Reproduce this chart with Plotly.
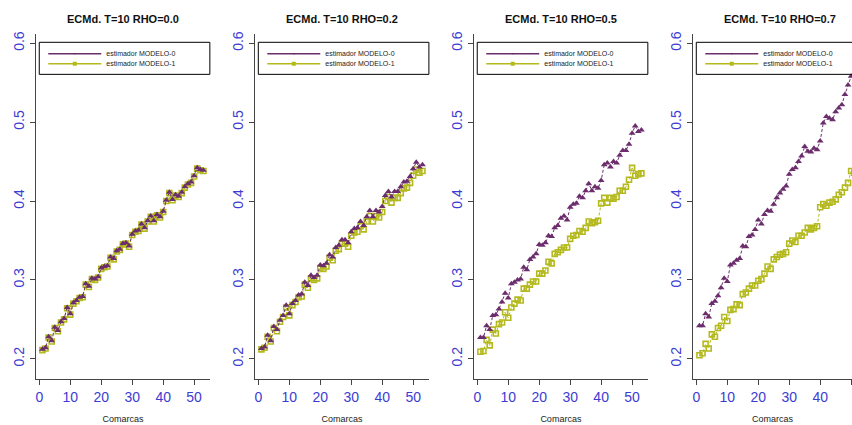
import plotly.graph_objects as go

# ---------------- data ----------------
comarcas = list(range(1, 54))
titles = ["ECMd. T=10 RHO=0.0", "ECMd. T=10 RHO=0.2",
          "ECMd. T=10 RHO=0.5", "ECMd. T=10 RHO=0.7"]
series_names = ["estimador MODELO-0", "estimador MODELO-1"]
x_ticks = [0, 10, 20, 30, 40, 50]
y_ticks = [0.2, 0.3, 0.4, 0.5, 0.6]
y_ticktext = ["0.2", "0.3", "0.4", "0.5", "0.6"]

m0_rho00 = [0.212, 0.214, 0.228, 0.223, 0.240, 0.236, 0.247, 0.251, 0.265, 0.257,
            0.271, 0.274, 0.278, 0.279, 0.295, 0.292, 0.302, 0.301, 0.304, 0.315,
            0.317, 0.318, 0.329, 0.327, 0.337, 0.339, 0.346, 0.347, 0.343, 0.358,
            0.362, 0.363, 0.371, 0.366, 0.375, 0.381, 0.375, 0.383, 0.380, 0.387,
            0.401, 0.411, 0.402, 0.408, 0.406, 0.411, 0.418, 0.422, 0.424, 0.432,
            0.442, 0.440, 0.439]
m1_rho00 = [0.211, 0.213, 0.227, 0.222, 0.239, 0.235, 0.246, 0.250, 0.264, 0.256,
            0.270, 0.273, 0.277, 0.278, 0.294, 0.291, 0.301, 0.300, 0.303, 0.314,
            0.316, 0.317, 0.328, 0.326, 0.336, 0.338, 0.345, 0.346, 0.342, 0.357,
            0.361, 0.362, 0.370, 0.365, 0.374, 0.380, 0.374, 0.382, 0.379, 0.386,
            0.400, 0.410, 0.401, 0.407, 0.405, 0.410, 0.417, 0.421, 0.423, 0.431,
            0.441, 0.439, 0.438]

m0_rho02 = [0.213, 0.215, 0.230, 0.223, 0.241, 0.237, 0.249, 0.255, 0.268, 0.257,
            0.270, 0.274, 0.281, 0.282, 0.297, 0.293, 0.306, 0.303, 0.306, 0.319,
            0.318, 0.321, 0.332, 0.329, 0.341, 0.344, 0.351, 0.351, 0.347, 0.361,
            0.365, 0.366, 0.374, 0.369, 0.380, 0.388, 0.380, 0.388, 0.386, 0.393,
            0.407, 0.412, 0.405, 0.412, 0.412, 0.418, 0.424, 0.425, 0.431, 0.441,
            0.449, 0.443, 0.446]
m1_rho02 = [0.212, 0.214, 0.228, 0.222, 0.239, 0.235, 0.247, 0.253, 0.265, 0.255,
            0.268, 0.272, 0.278, 0.279, 0.294, 0.290, 0.302, 0.300, 0.302, 0.315,
            0.314, 0.317, 0.328, 0.325, 0.337, 0.339, 0.346, 0.346, 0.342, 0.356,
            0.360, 0.361, 0.368, 0.364, 0.374, 0.381, 0.374, 0.381, 0.379, 0.386,
            0.400, 0.405, 0.398, 0.404, 0.404, 0.410, 0.416, 0.417, 0.423, 0.432,
            0.440, 0.436, 0.438]

m0_rho05 = [0.227, 0.227, 0.242, 0.237, 0.255, 0.256, 0.263, 0.272, 0.283, 0.277,
            0.295, 0.297, 0.300, 0.301, 0.316, 0.313, 0.326, 0.329, 0.333, 0.345,
            0.344, 0.347, 0.356, 0.355, 0.366, 0.369, 0.378, 0.381, 0.376, 0.392,
            0.396, 0.397, 0.406, 0.404, 0.413, 0.422, 0.413, 0.418, 0.416, 0.426,
            0.446, 0.448, 0.443, 0.450, 0.448, 0.458, 0.464, 0.464, 0.472, 0.486,
            0.495, 0.488, 0.490]
m1_rho05 = [0.209, 0.210, 0.224, 0.217, 0.237, 0.232, 0.244, 0.246, 0.259, 0.252,
            0.265, 0.270, 0.275, 0.274, 0.289, 0.289, 0.294, 0.298, 0.298, 0.308,
            0.308, 0.312, 0.323, 0.321, 0.333, 0.335, 0.338, 0.341, 0.341, 0.352,
            0.356, 0.357, 0.362, 0.361, 0.366, 0.374, 0.372, 0.373, 0.375, 0.397,
            0.404, 0.398, 0.404, 0.403, 0.405, 0.413, 0.413, 0.418, 0.427, 0.442,
            0.432, 0.434, 0.435]

m0_rho07 = [0.242, 0.242, 0.257, 0.253, 0.270, 0.273, 0.280, 0.290, 0.302, 0.298,
            0.319, 0.321, 0.325, 0.327, 0.343, 0.342, 0.355, 0.357, 0.364, 0.376,
            0.371, 0.383, 0.388, 0.387, 0.396, 0.404, 0.410, 0.415, 0.419, 0.434,
            0.440, 0.442, 0.450, 0.457, 0.469, 0.463, 0.462, 0.467, 0.465, 0.476,
            0.499, 0.507, 0.505, 0.503, 0.513, 0.518, 0.522, 0.535, 0.547, 0.558,
            0.560, 0.568, 0.572]
m1_rho07 = [0.2045, 0.207, 0.219, 0.213, 0.231, 0.228, 0.239, 0.242, 0.253, 0.248,
            0.262, 0.263, 0.269, 0.268, 0.282, 0.284, 0.289, 0.293, 0.293, 0.299,
            0.301, 0.308, 0.317, 0.314, 0.326, 0.329, 0.332, 0.333, 0.335, 0.346,
            0.350, 0.348, 0.356, 0.356, 0.360, 0.366, 0.364, 0.366, 0.368, 0.392,
            0.396, 0.394, 0.398, 0.399, 0.402, 0.408, 0.411, 0.417, 0.423, 0.438,
            0.436, 0.440, 0.445]

panels = [(m0_rho00, m1_rho00), (m0_rho02, m1_rho02),
          (m0_rho05, m1_rho05), (m0_rho07, m1_rho07)]

# ---------------- style / geometry ----------------
W, H = 852, 425
PURPLE = "#6b2d6b"
OLIVE = "#b4ba1e"
BLUE = "#3c3cd2"
AX = "#444444"
FONT = "Arial, Liberation Sans, sans-serif"

panel_left = [35.0, 254.3, 473.5, 692.8]
ppu = 3.1                     # pixels per x unit
xmin, xmax = -1.08, 55.08
plot_w = (xmax - xmin) * ppu
y_top, y_bot = 31.7, 379.2
y_range = [0.1739, 0.6122]

fig = go.Figure()
layout = dict(width=W, height=H, margin=dict(l=0, r=0, t=0, b=0),
              paper_bgcolor="white", plot_bgcolor="white",
              showlegend=True, annotations=[], shapes=[])

for i, (m0, m1) in enumerate(panels):
    k = "" if i == 0 else str(i + 1)
    L = panel_left[i]
    R = min(L + plot_w, W)
    xr = [xmin, xmin + (R - L) / ppu]
    layout["xaxis" + k] = dict(
        domain=[L / W, R / W], range=xr, anchor="y" + k,
        tickvals=x_ticks, ticks="outside", ticklen=5, tickcolor=AX, tickwidth=1,
        showline=True, linecolor=AX, linewidth=1, showgrid=False, zeroline=False,
        tickfont=dict(family=FONT, size=14, color=BLUE),
        title=dict(text="Comarcas", font=dict(family=FONT, size=9, color="#222222"),
                   standoff=11),
    )
    layout["yaxis" + k] = dict(
        domain=[(H - y_bot) / H, (H - y_top) / H], range=y_range, anchor="x" + k,
        tickvals=y_ticks, ticktext=y_ticktext, tickangle=-90,
        ticks="outside", ticklen=5, tickcolor=AX, tickwidth=1,
        showline=True, linecolor=AX, linewidth=1, showgrid=False, zeroline=False,
        tickfont=dict(family=FONT, size=14, color=BLUE),
    )
    # data: MODELO-1 first, MODELO-0 drawn on top
    fig.add_trace(go.Scatter(
        x=comarcas, y=m1, mode="lines+markers", xaxis="x" + k, yaxis="y" + k,
        line=dict(color=OLIVE, width=1, dash="3px,2px"),
        marker=dict(symbol="square-open", size=5, color=OLIVE, line=dict(width=1.6, color=OLIVE)),
        showlegend=False, name=series_names[1]))
    fig.add_trace(go.Scatter(
        x=comarcas, y=m0, mode="lines+markers", xaxis="x" + k, yaxis="y" + k,
        line=dict(color=PURPLE, width=1, dash="3px,2px"),
        marker=dict(symbol="triangle-up", size=6, color=PURPLE, line=dict(width=0)),
        showlegend=False, name=series_names[0]))
    # legend entries (one legend per row so rows can sit close like R's legend)
    for j, (col, sym, msz) in enumerate([(PURPLE, "triangle-up", 2), (OLIVE, "square", 4)]):
        lg = "legend" if (2 * i + j) == 0 else "legend" + str(2 * i + j + 1)
        fig.add_trace(go.Scatter(
            x=[None], y=[None], mode="lines+markers", xaxis="x" + k, yaxis="y" + k,
            line=dict(color=col, width=1.5),
            marker=dict(symbol=sym, size=msz, color=col),
            name=series_names[j], legend=lg, showlegend=True))
        yc = 52.0 + 10.0 * j
        layout[lg] = dict(x=(L + 7.3) / W, xanchor="left", y=(H - yc) / H, yanchor="middle",
                          bgcolor="rgba(0,0,0,0)", borderwidth=0, itemwidth=53,
                          font=dict(family=FONT, size=7, color="#222222"))
    # legend box
    layout["shapes"].append(dict(type="rect", xref="paper", yref="paper",
                                 x0=(L + 3.3) / W, x1=(L + plot_w) / W,
                                 y0=(H - 72.7) / H, y1=(H - 40.5) / H,
                                 line=dict(color="black", width=1)))
    # panel title
    layout["annotations"].append(dict(
        text="<b>" + titles[i] + "</b>", xref="paper", yref="paper",
        x=(L + plot_w / 2) / W, y=(H - 17) / H, xanchor="center", yanchor="middle",
        showarrow=False, font=dict(family=FONT, size=11, color="#111111")))

fig.update_layout(**layout)
fig.write_html("out.html")
